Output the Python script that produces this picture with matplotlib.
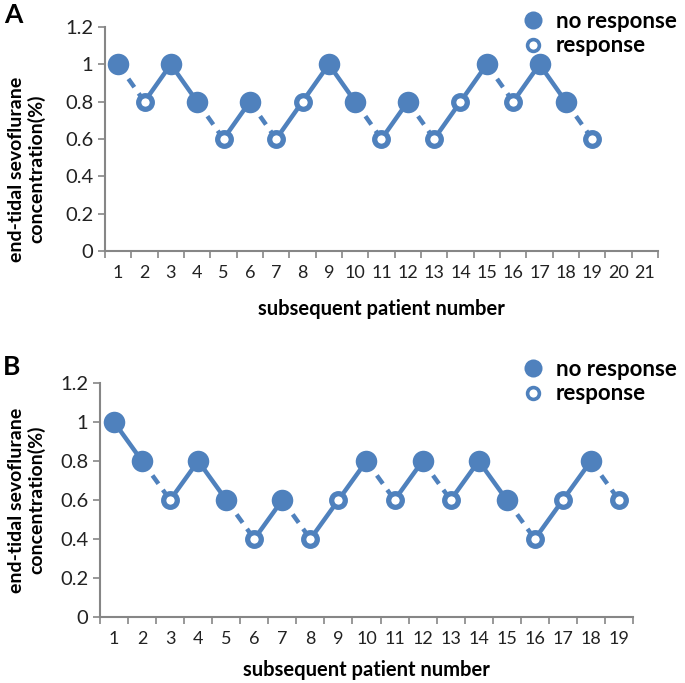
import matplotlib
matplotlib.use('Agg')
import matplotlib.pyplot as plt
from matplotlib.lines import Line2D

plt.rcParams['font.family'] = ['Lato', 'DejaVu Sans']

# panel A data
a_patient = list(range(1, 20))
a_conc = [1, 0.8, 1, 0.8, 0.6, 0.8, 0.6, 0.8, 1, 0.8, 0.6, 0.8, 0.6, 0.8, 1, 0.8, 1, 0.8, 0.6]
a_response = [0, 1, 0, 0, 1, 0, 1, 1, 0, 0, 1, 0, 1, 1, 0, 1, 0, 0, 1]
a_categories = list(range(1, 22))

# panel B data
b_patient = list(range(1, 20))
b_conc = [1, 0.8, 0.6, 0.8, 0.6, 0.4, 0.6, 0.4, 0.6, 0.8, 0.6, 0.8, 0.6, 0.8, 0.6, 0.4, 0.6, 0.8, 0.6]
b_response = [0, 0, 1, 0, 0, 1, 0, 1, 1, 0, 1, 0, 1, 0, 0, 1, 1, 0, 1]
b_categories = list(range(1, 20))

y_ticks = [0, 0.2, 0.4, 0.6, 0.8, 1, 1.2]
y_labels = ['0', '0.2', '0.4', '0.6', '0.8', '1', '1.2']

BLUE = '#4F81BD'
GREY = '#868686'
W, H = 685, 683


def fx(x):
    return x / W


def fy(y):
    return 1 - y / H


def draw_panel(ax, xs, ys, resp, cats):
    for i in range(len(xs) - 1):
        dashed = resp[i] == 0 and resp[i + 1] == 1
        line, = ax.plot([xs[i], xs[i + 1]], [ys[i], ys[i + 1]], color=BLUE,
                        lw=3.2, solid_capstyle='butt', zorder=2)
        if dashed:
            line.set_dashes((2.3, 1.7))
    fx_ = [x for x, r in zip(xs, resp) if r == 0]
    fy_ = [y for y, r in zip(ys, resp) if r == 0]
    ox_ = [x for x, r in zip(xs, resp) if r == 1]
    oy_ = [y for y, r in zip(ys, resp) if r == 1]
    ax.plot(fx_, fy_, 'o', ms=15.5, mfc=BLUE, mec=BLUE, mew=0, zorder=3)
    ax.plot(ox_, oy_, 'o', ms=9.8, mfc='white', mec=BLUE, mew=3.8, zorder=3)

    ax.set_xlim(0.5, len(cats) + 0.5)
    ax.set_ylim(0, 1.2)
    ax.set_xticks([c - 0.5 for c in cats] + [cats[-1] + 0.5])
    ax.set_xticklabels([])
    ax.set_xticks(cats, minor=True)
    ax.set_xticklabels([str(c) for c in cats], minor=True)
    ax.tick_params(axis='x', which='major', length=5, width=1.2, color=GREY, direction='out')
    ax.tick_params(axis='x', which='minor', length=0, labelsize=13, pad=10, labelcolor='#222222')
    ax.set_yticks(y_ticks)
    ax.set_yticklabels(y_labels)
    ax.tick_params(axis='y', length=5, width=1.2, color=GREY, labelsize=14.5, labelcolor='#222222')
    for s in ['top', 'right']:
        ax.spines[s].set_visible(False)
    for s in ['left', 'bottom']:
        ax.spines[s].set_color(GREY)
        ax.spines[s].set_linewidth(1.5)


def add_legend(fig, x, y):
    handles = [
        Line2D([], [], ls='none', marker='o', ms=13, mfc=BLUE, mec=BLUE, mew=0),
        Line2D([], [], ls='none', marker='o', ms=8.5, mfc='white', mec=BLUE, mew=2.6),
    ]
    fig.legend(handles, ['no response', 'response'], loc='upper left',
               bbox_to_anchor=(fx(x), fy(y)), frameon=False,
               prop={'weight': 'bold', 'size': 16}, handletextpad=0.45,
               labelspacing=0.15, borderpad=0, handlelength=1.1)


fig = plt.figure(figsize=(6.85, 6.83), dpi=100)

axA = fig.add_axes([fx(105), fy(251), fx(658) - fx(105), fy(27) - fy(251)])
draw_panel(axA, a_patient, a_conc, a_response, a_categories)
axB = fig.add_axes([fx(100), fy(617), fx(633) - fx(100), fy(383) - fy(617)])
draw_panel(axB, b_patient, b_conc, b_response, b_categories)

ylab = 'end-tidal sevoflurane\nconcentration(%)'
fig.text(fx(27), fy(169), ylab, rotation=90, ha='center', va='center',
         fontsize=14, fontweight='bold', multialignment='center', linespacing=1.15)
fig.text(fx(27), fy(500), ylab, rotation=90, ha='center', va='center',
         fontsize=14, fontweight='bold', multialignment='center', linespacing=1.15)
fig.text(fx(381), fy(309), 'subsequent patient number', ha='center', va='center',
         fontsize=14.5, fontweight='bold')
fig.text(fx(366), fy(670), 'subsequent patient number', ha='center', va='center',
         fontsize=14.5, fontweight='bold')
fig.text(fx(13), fy(15), 'A', ha='center', va='center', fontsize=19, fontweight='bold')
fig.text(fx(12), fy(367), 'B', ha='center', va='center', fontsize=19, fontweight='bold')

add_legend(fig, 510, 0)
add_legend(fig, 510, 348)

fig.savefig('out.png', dpi=100)
plt.close(fig)
print("Done.")
